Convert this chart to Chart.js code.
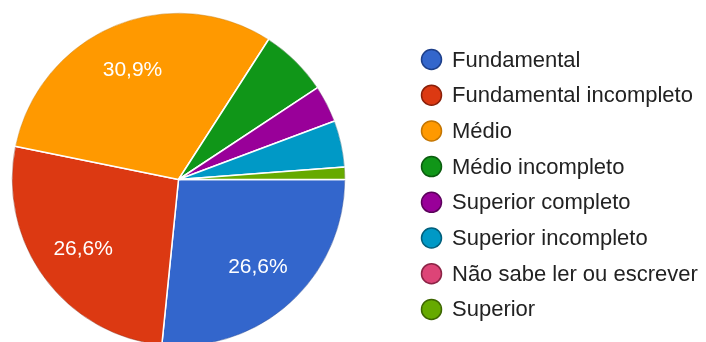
<!DOCTYPE html>
<html>
<head>
<meta charset="utf-8">
<script src="https://cdn.jsdelivr.net/npm/chart.js@4.4.1/dist/chart.umd.min.js"></script>
<style>
  html, body { margin: 0; padding: 0; background: #ffffff; overflow: hidden; }
  #wrap { position: absolute; left: 0; top: 0; width: 706px; height: 360px; }
</style>
</head>
<body>
<div id="wrap"><canvas id="chart"></canvas></div>
<script>
// Escolaridade dos entrevistados (% das respostas)
const categories = [
  'Fundamental',
  'Fundamental incompleto',
  'Médio',
  'Médio incompleto',
  'Superior completo',
  'Superior incompleto',
  'Não sabe ler ou escrever',
  'Superior'
];
const shares = [26.6, 26.6, 30.9, 6.6, 3.6, 4.5, 0, 1.2];
const sliceColors = ['#3366cc', '#dc3912', '#ff9900', '#109618', '#990099', '#0099c6', '#dd4477', '#66aa00'];
const rimColors   = ['#1d3f8a', '#8a1f08', '#c47500', '#0a5c0e', '#5c005c', '#005f7c', '#8c2446', '#3d6600'];

// thin darker edge round the pie
const outerRimPlugin = {
  id: 'outerRim',
  afterDatasetsDraw(chart) {
    const ctx = chart.ctx;
    const meta = chart.getDatasetMeta(0);
    ctx.save();
    ctx.lineWidth = 1;
    meta.data.forEach((arc, i) => {
      const p = arc.getProps(['x', 'y', 'startAngle', 'endAngle', 'outerRadius'], true);
      if (p.endAngle - p.startAngle <= 0) return;
      ctx.beginPath();
      ctx.arc(p.x, p.y, p.outerRadius - 0.5, p.startAngle + 0.004, p.endAngle - 0.004);
      ctx.strokeStyle = rimColors[i];
      ctx.globalAlpha = 0.45;
      ctx.stroke();
    });
    ctx.restore();
  }
};

// percentage text inside the larger slices
const sliceLabelPlugin = {
  id: 'sliceLabels',
  afterDatasetsDraw(chart) {
    const ctx = chart.ctx;
    const meta = chart.getDatasetMeta(0);
    const values = chart.data.datasets[0].data;
    ctx.save();
    ctx.font = '21px "Liberation Sans", Arial, sans-serif';
    ctx.fillStyle = '#ffffff';
    ctx.textAlign = 'center';
    ctx.textBaseline = 'middle';
    meta.data.forEach((arc, i) => {
      const v = values[i];
      if (v < 10) return;
      const p = arc.getProps(['x', 'y', 'startAngle', 'endAngle', 'outerRadius'], true);
      const mid = (p.startAngle + p.endAngle) / 2;
      const r = p.outerRadius * 0.71;
      const text = v.toFixed(1).replace('.', ',') + '%';
      ctx.fillText(text, p.x + Math.cos(mid) * r, p.y + Math.sin(mid) * r);
    });
    ctx.restore();
  }
};

// legend column on the right with round markers
const legendPlugin = {
  id: 'roundLegend',
  afterDraw(chart) {
    const ctx = chart.ctx;
    const colors = chart.data.datasets[0].backgroundColor;
    const x0 = 431.5, y0 = 59.5, step = 35.7;
    ctx.save();
    ctx.font = '22px "Liberation Sans", Arial, sans-serif';
    ctx.textBaseline = 'middle';
    ctx.textAlign = 'left';
    chart.data.labels.forEach((label, i) => {
      const y = y0 + i * step;
      ctx.beginPath();
      ctx.arc(x0, y, 10, 0, Math.PI * 2);
      ctx.fillStyle = colors[i];
      ctx.fill();
      ctx.lineWidth = 1.5;
      ctx.strokeStyle = rimColors[i];
      ctx.stroke();
      ctx.fillStyle = '#222222';
      ctx.fillText(label, 452, y + 1);
    });
    ctx.restore();
  }
};

new Chart(document.getElementById('chart'), {
  type: 'pie',
  data: {
    labels: categories,
    datasets: [{
      data: shares,
      backgroundColor: sliceColors,
      borderColor: '#ffffff',
      borderWidth: 1.5,
      hoverOffset: 0
    }]
  },
  options: {
    responsive: true,
    maintainAspectRatio: false,
    animation: false,
    rotation: 90,
    layout: { padding: { left: 11, top: 12, right: 360, bottom: 13 } },
    plugins: {
      legend: { display: false },
      tooltip: { enabled: false }
    }
  },
  plugins: [outerRimPlugin, sliceLabelPlugin, legendPlugin]
});
</script>
</body>
</html>
